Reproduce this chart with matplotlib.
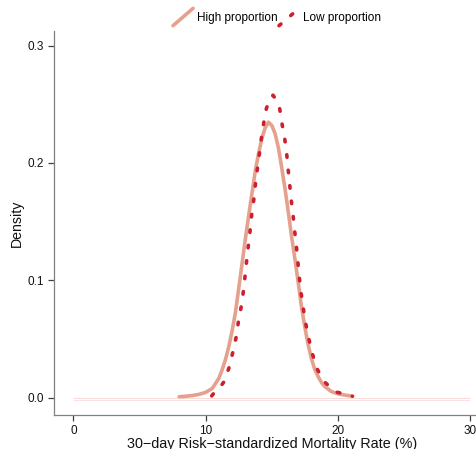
import matplotlib
matplotlib.use("Agg")
import matplotlib.pyplot as plt
from matplotlib.lines import Line2D
from matplotlib.legend_handler import HandlerBase

plt.rcParams['font.family'] = ['Liberation Sans', 'DejaVu Sans']

# ---- data ----
high_x = [8.0, 8.5, 9.0, 9.5, 10.0, 10.5, 11.0, 11.25, 11.5, 11.75, 12.0, 12.25, 12.5, 12.75,
          13.0, 13.25, 13.5, 13.75, 14.0, 14.25, 14.5, 14.75, 15.0, 15.25, 15.5, 15.75, 16.0,
          16.25, 16.5, 16.75, 17.0, 17.25, 17.5, 17.75, 18.0, 18.25, 18.5, 18.75, 19.0, 19.5,
          20.0, 20.5, 21.0]
high_y = [0.0008, 0.0012, 0.0018, 0.0028, 0.0045, 0.0078, 0.0165, 0.0238, 0.0325, 0.0435, 0.0568,
          0.0725, 0.093, 0.114, 0.135, 0.155, 0.174, 0.193, 0.208, 0.221, 0.230, 0.2348, 0.232,
          0.225, 0.213, 0.196, 0.178, 0.158, 0.137, 0.118, 0.098, 0.077, 0.060, 0.045, 0.033,
          0.024, 0.018, 0.013, 0.0095, 0.0052, 0.0033, 0.0022, 0.0014]

low_x = [10.46, 10.58, 11.0, 11.39, 11.77, 12.05, 12.30, 12.47, 12.68, 12.85, 12.98, 13.10, 13.23,
         13.36, 13.48, 13.64, 13.76, 13.91, 14.06, 14.21, 14.39, 14.59, 14.85, 15.09, 15.35, 15.60,
         15.77, 15.98, 16.13, 16.25, 16.36, 16.48, 16.61, 16.73, 16.86, 16.96, 17.08, 17.21, 17.38,
         17.56, 17.79, 18.06, 18.40, 18.97, 19.78, 20.78, 21.1]
low_y = [0.0015, 0.0032, 0.0075, 0.0136, 0.0256, 0.0384, 0.0512, 0.0643, 0.077, 0.0904, 0.1037,
         0.1168, 0.1296, 0.1424, 0.1558, 0.1688, 0.1816, 0.195, 0.2078, 0.2208, 0.2342, 0.2464,
         0.2545, 0.2578, 0.2535, 0.2461, 0.2336, 0.2205, 0.2072, 0.193, 0.1807, 0.1674, 0.1552,
         0.1419, 0.129, 0.117, 0.1026, 0.0895, 0.0762, 0.0634, 0.0506, 0.0378, 0.025, 0.0136,
         0.005, 0.0023, 0.0012]

support = [0, 30]
x_ticks = [0, 10, 20, 30]
y_ticks = [0.0, 0.1, 0.2, 0.3]
y_ticklabels = ['0.0', '0.1', '0.2', '0.3']
labels = ['High proportion', 'Low proportion']

c_high = '#E6A08E'
c_low = '#CD1F2D'

fig = plt.figure(figsize=(4.76, 4.49), dpi=100)
# axes placement: left spine ~54px, bottom ~415px, top ~31px
ax = fig.add_axes([54/476, 34/449, (483.5-54)/476, (415-31)/449])
ax.set_xlim(-1.46, 31.0)
ax.set_ylim(-0.0148, 0.3125)

# faint near-zero density lines over the full support
ax.plot(support, [0.0, 0.0], color=c_high, lw=0.8, alpha=0.35, solid_capstyle='butt')
ax.plot(support, [-0.0022, -0.0022], color=c_low, lw=0.6, alpha=0.15, solid_capstyle='butt')

l1, = ax.plot(high_x, high_y, color=c_high, lw=2.6, solid_capstyle='round',
              solid_joinstyle='round', label=labels[0])
l2, = ax.plot(low_x, low_y, color=c_low, lw=2.6, linestyle=(0, (0.7, 3.6)),
              dash_capstyle='round', label=labels[1])

for s in ['top', 'right']:
    ax.spines[s].set_visible(False)
for s in ['left', 'bottom']:
    ax.spines[s].set_color('#808080')
    ax.spines[s].set_linewidth(0.9)

ax.set_xticks(x_ticks)
ax.set_yticks(y_ticks)
ax.set_yticklabels(y_ticklabels)
ax.tick_params(axis='both', direction='out', length=4, width=0.9, color='#404040',
               labelsize=8.5, labelcolor='#111111', pad=3)
ax.set_ylabel('Density', fontsize=10.2, labelpad=2.5, color='#111111')
ax.set_xlabel('30\u2212day Risk\u2212standardized Mortality Rate (%)', fontsize=10.4,
              color='#111111')
ax.xaxis.set_label_coords(15.0, -0.0335, transform=ax.transData)


class DiagHandler(HandlerBase):
    def create_artists(self, legend, orig_handle, xdescent, ydescent, width, height,
                       fontsize, trans):
        line = Line2D([-xdescent, width - xdescent],
                      [-ydescent - 0.12 * height, height - ydescent + 0.12 * height])
        line.update_from(orig_handle)
        line.set_clip_on(False)
        line.set_clip_box(None)
        line.set_transform(trans)
        return [line]


fig.legend([l1, l2], labels, loc='center left', bbox_to_anchor=(173/476, 1 - 17/449), ncol=2,
           frameon=False, fontsize=8.5, handlelength=1.7, handleheight=1.45,
           handletextpad=0.35, columnspacing=0.1, borderpad=0, borderaxespad=0,
           handler_map={Line2D: DiagHandler()})

fig.savefig('out.png', dpi=100)
